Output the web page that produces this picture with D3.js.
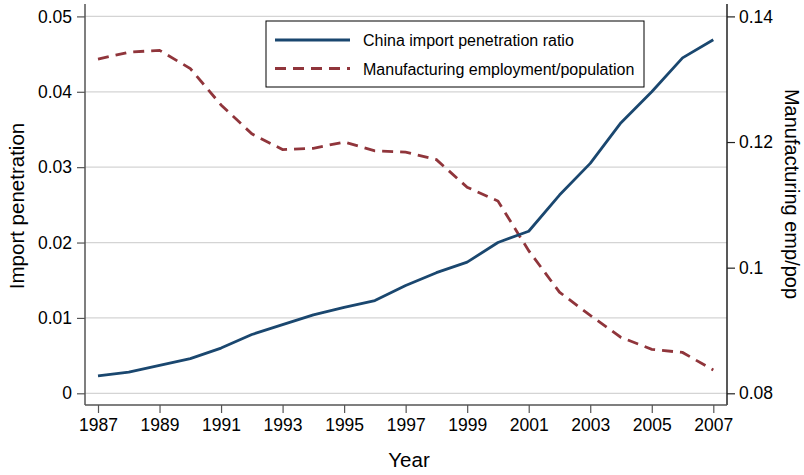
<!DOCTYPE html>
<html>
<head>
<meta charset="utf-8">
<script src="https://cdn.jsdelivr.net/npm/d3@7"></script>
<style>
  body { margin: 0; background: #fff; }
  text { font-family: "Liberation Sans", Arial, Helvetica, sans-serif; fill: #000; }
</style>
</head>
<body>
<div id="chart"></div>
<script>
const width = 804;
const height = 475;

// data
const years = d3.range(1987, 2008);
const importPen = [0.0023, 0.0028, 0.0037, 0.0046, 0.0060, 0.0078, 0.0091, 0.0104, 0.0114, 0.0123,
  0.0143, 0.0160, 0.0174, 0.0200, 0.0215, 0.0263, 0.0305, 0.0359, 0.0400, 0.0445, 0.0469];
const mfgEmp = [0.1332, 0.1343, 0.1346, 0.1317, 0.1259, 0.1213, 0.1188, 0.1190, 0.1200, 0.1186,
  0.1184, 0.1172, 0.1128, 0.1106, 0.1027, 0.0961, 0.0924, 0.0889, 0.0870, 0.0865, 0.0837];
const xTicks = d3.range(1987, 2008, 2);
const leftTicks = [0, 0.01, 0.02, 0.03, 0.04, 0.05];
const rightTicks = [0.08, 0.1, 0.12, 0.14];
const legendLabels = ["China import penetration ratio", "Manufacturing employment/population"];

const blue = "#1a476f";
const red = "#90353b";

const plot = { left: 85, right: 727, top: 4, bottom: 405 };

const x = d3.scaleLinear().domain([1987, 2007]).range([98, 713.3]);
const yL = d3.scaleLinear().domain([0, 0.05]).range([393.3, 16.4]);
const yR = d3.scaleLinear().domain([0.08, 0.14]).range([393.3, 16.4]);

const svg = d3.select("#chart")
  .append("svg")
  .attr("width", width)
  .attr("height", height);

// gridlines
svg.append("g")
  .selectAll("line")
  .data(leftTicks)
  .join("line")
  .attr("x1", plot.left)
  .attr("x2", plot.right)
  .attr("y1", d => yL(d))
  .attr("y2", d => yL(d))
  .attr("stroke", "#d4d4d4")
  .attr("stroke-width", 1.3);

// axes
const fmtL = d => d === 0 ? "0" : d3.format(".2f")(d);
const fmtR = d => d3.format("~g")(d);

const axL = svg.append("g")
  .attr("transform", `translate(${plot.left},0)`)
  .call(d3.axisLeft(yL).tickValues(leftTicks).tickFormat(fmtL).tickSize(8).tickPadding(5));

const axR = svg.append("g")
  .attr("transform", `translate(${plot.right},0)`)
  .call(d3.axisRight(yR).tickValues(rightTicks).tickFormat(fmtR).tickSize(8).tickPadding(4));

const axB = svg.append("g")
  .attr("transform", `translate(0,${plot.bottom})`)
  .call(d3.axisBottom(x).tickValues(xTicks).tickFormat(d3.format("d")).tickSize(8).tickPadding(6));

[axL, axR, axB].forEach(a => {
  a.select(".domain").remove();
  a.selectAll("text").style("font-size", "17.5px").attr("fill", "#000");
});
axL.selectAll(".tick line").attr("stroke", "#555").attr("stroke-width", 1.2);
axR.selectAll(".tick line").attr("stroke", "#222").attr("stroke-width", 1.2);
axB.selectAll(".tick line").attr("stroke", "#555").attr("stroke-width", 1.2);

// axis lines
svg.append("line").attr("x1", plot.left).attr("x2", plot.left)
  .attr("y1", plot.top).attr("y2", plot.bottom)
  .attr("stroke", "#555").attr("stroke-width", 1.5);
svg.append("line").attr("x1", plot.right).attr("x2", plot.right)
  .attr("y1", plot.top).attr("y2", plot.bottom)
  .attr("stroke", "#222").attr("stroke-width", 1.5);
svg.append("line").attr("x1", plot.left).attr("x2", plot.right)
  .attr("y1", plot.bottom).attr("y2", plot.bottom)
  .attr("stroke", "#555").attr("stroke-width", 1.5);

// lines
const lineL = d3.line().x((d, i) => x(years[i])).y(d => yL(d));
const lineR = d3.line().x((d, i) => x(years[i])).y(d => yR(d));

svg.append("path")
  .datum(mfgEmp)
  .attr("d", lineR)
  .attr("fill", "none")
  .attr("stroke", red)
  .attr("stroke-width", 2.8)
  .attr("stroke-dasharray", "11,7");

svg.append("path")
  .datum(importPen)
  .attr("d", lineL)
  .attr("fill", "none")
  .attr("stroke", blue)
  .attr("stroke-width", 2.8)
  .attr("stroke-linejoin", "round");

// axis titles
svg.append("text")
  .attr("transform", `translate(24,206) rotate(-90)`)
  .attr("text-anchor", "middle")
  .style("font-size", "20.5px")
  .text("Import penetration");

svg.append("text")
  .attr("transform", `translate(785,194) rotate(90)`)
  .attr("text-anchor", "middle")
  .style("font-size", "20px")
  .text("Manufacturing emp/pop");

svg.append("text")
  .attr("x", 409)
  .attr("y", 467)
  .attr("text-anchor", "middle")
  .style("font-size", "20.5px")
  .text("Year");

// legend
const legend = svg.append("g");
legend.append("rect")
  .attr("x", 266).attr("y", 21)
  .attr("width", 378).attr("height", 66)
  .attr("fill", "#fff")
  .attr("stroke", "#000")
  .attr("stroke-width", 1);

const legendItems = legend.selectAll("g")
  .data(legendLabels)
  .join("g")
  .attr("transform", (d, i) => `translate(0,${40 + i * 28.5})`);

legendItems.append("line")
  .attr("x1", 275).attr("x2", 350)
  .attr("stroke", (d, i) => i === 0 ? blue : red)
  .attr("stroke-width", 2.8)
  .attr("stroke-dasharray", (d, i) => i === 0 ? null : "11,7");

legendItems.append("text")
  .attr("x", 363)
  .attr("y", 6)
  .style("font-size", "16px")
  .text(d => d);
</script>
</body>
</html>
